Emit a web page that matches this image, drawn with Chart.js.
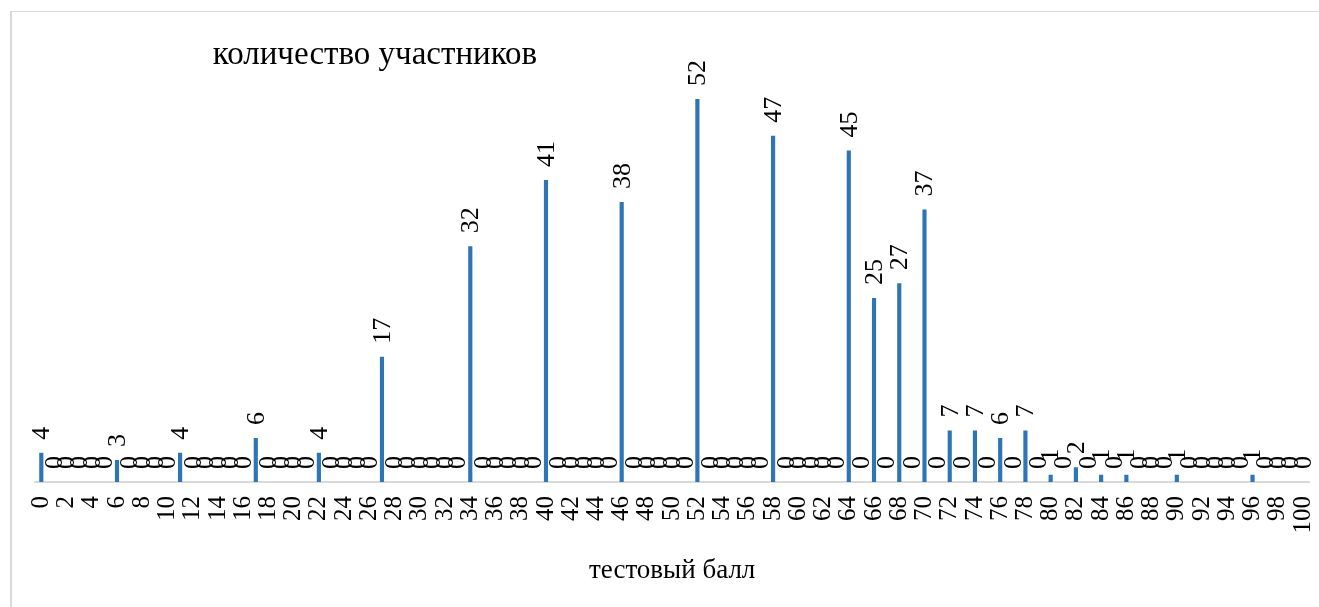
<!DOCTYPE html>
<html>
<head>
<meta charset="utf-8">
<script src="https://cdn.jsdelivr.net/npm/chart.js@4/dist/chart.umd.min.js"></script>
<style>
    html, body { margin: 0; padding: 0; background: #fff; overflow: hidden; }
    #wrap { position: relative; width: 1319px; height: 607px; overflow: hidden; }
    #frame { position: absolute; left: 10px; top: 11px; width: 1320px; height: 610px;
             border-left: 2px solid #d9d9d9; border-top: 1px solid #d9d9d9; }
    canvas { position: absolute; left: 0; top: 0; }
</style>
</head>
<body>
<div id="wrap">
    <div id="frame"></div>
    <!-- wider than the window: the rotated last tick label reserves room on the right -->
    <canvas id="scoreChart" width="1347" height="607"></canvas>
</div>
<script>
const chartTitle = "количество участников";
const axisTitle = "тестовый балл";

// test score, 0..100
const scores = [
    "0", "1", "2", "3", "4", "5", "6", "7", "8", "9",
    "10", "11", "12", "13", "14", "15", "16", "17", "18", "19",
    "20", "21", "22", "23", "24", "25", "26", "27", "28", "29",
    "30", "31", "32", "33", "34", "35", "36", "37", "38", "39",
    "40", "41", "42", "43", "44", "45", "46", "47", "48", "49",
    "50", "51", "52", "53", "54", "55", "56", "57", "58", "59",
    "60", "61", "62", "63", "64", "65", "66", "67", "68", "69",
    "70", "71", "72", "73", "74", "75", "76", "77", "78", "79",
    "80", "81", "82", "83", "84", "85", "86", "87", "88", "89",
    "90", "91", "92", "93", "94", "95", "96", "97", "98", "99",
    "100"
];

// number of participants per score
const participants = [
    4, 0, 0, 0, 0, 0, 3, 0, 0, 0,
    0, 4, 0, 0, 0, 0, 0, 6, 0, 0,
    0, 0, 4, 0, 0, 0, 0, 17, 0, 0,
    0, 0, 0, 0, 32, 0, 0, 0, 0, 0,
    41, 0, 0, 0, 0, 0, 38, 0, 0, 0,
    0, 0, 52, 0, 0, 0, 0, 0, 47, 0,
    0, 0, 0, 0, 45, 0, 25, 0, 27, 0,
    37, 0, 7, 0, 7, 0, 6, 0, 7, 0,
    1, 0, 2, 0, 1, 0, 1, 0, 0, 0,
    1, 0, 0, 0, 0, 0, 1, 0, 0, 0,
    0
];

const serif = '"Liberation Serif", "Times New Roman", serif';

// value labels, written upward above each bar
const barLabels = {
    id: "barLabels",
    afterDatasetsDraw(chart) {
        const ctx = chart.ctx;
        const meta = chart.getDatasetMeta(0);
        ctx.save();
        ctx.font = "26px " + serif;
        ctx.fillStyle = "#000";
        ctx.textAlign = "left";
        ctx.textBaseline = "middle";
        meta.data.forEach((bar, i) => {
            ctx.save();
            ctx.translate(bar.x, bar.y - 13);
            ctx.rotate(-Math.PI / 2);
            ctx.fillText(String(participants[i]), 0, 1);
            ctx.restore();
        });
        ctx.restore();
    }
};

// title sits left of centre, as in the source
const leftTitle = {
    id: "leftTitle",
    afterDraw(chart) {
        const ctx = chart.ctx;
        ctx.save();
        ctx.font = "33px " + serif;
        ctx.fillStyle = "#000";
        ctx.textAlign = "center";
        ctx.textBaseline = "middle";
        ctx.fillText(chartTitle, 375, 55);
        ctx.restore();
    }
};

new Chart(document.getElementById("scoreChart").getContext("2d"), {
    type: "bar",
    data: {
        labels: scores,
        datasets: [{
            data: participants,
            backgroundColor: "#2e75b6",
            borderWidth: 0,
            barPercentage: 0.6,
            categoryPercentage: 0.55
        }]
    },
    options: {
        responsive: false,
        animation: false,
        layout: { padding: { left: 35, right: 0, top: 40, bottom: 20 } },
        scales: {
            x: {
                grid: { display: false, drawTicks: false },
                border: { display: true, color: "#d9d9d9", width: 2 },
                ticks: {
                    autoSkip: false,
                    maxRotation: 90,
                    minRotation: 90,
                    padding: 14,
                    color: "#000",
                    font: { family: serif, size: 25 },
                    callback: (v, i) => (i % 2 === 0 ? scores[i] : "")
                },
                title: {
                    display: true,
                    text: axisTitle,
                    color: "#000",
                    font: { family: serif, size: 27 },
                    padding: { top: 7, bottom: 0 }
                }
            },
            y: { display: false, min: 0, max: 60 }
        },
        plugins: {
            legend: { display: false },
            tooltip: { enabled: false }
        }
    },
    plugins: [barLabels, leftTitle]
});
</script>
</body>
</html>
